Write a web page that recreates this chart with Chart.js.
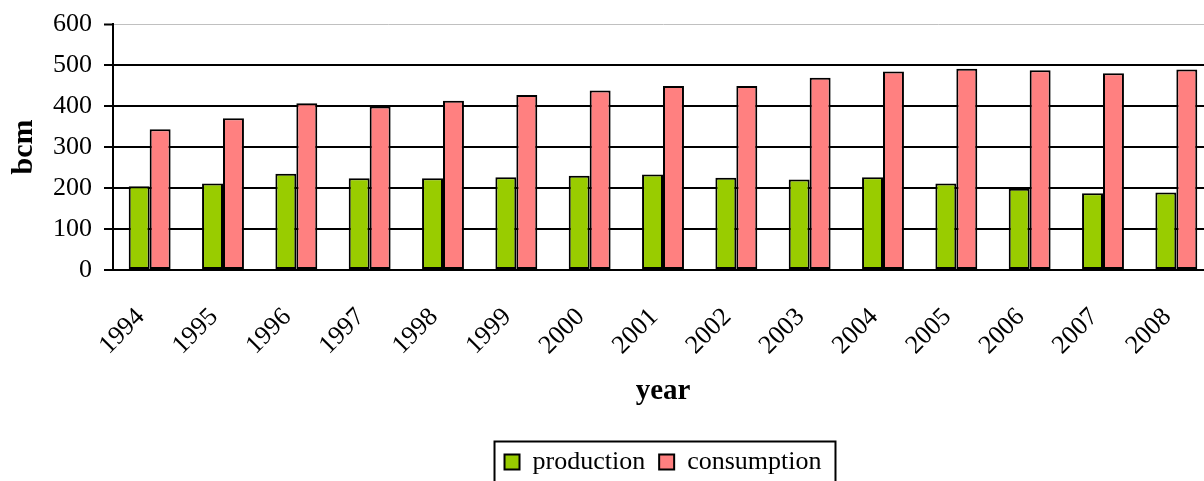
<!DOCTYPE html>
<html>
<head>
<meta charset="utf-8">
<script src="https://cdn.jsdelivr.net/npm/chart.js@4/dist/chart.umd.min.js"></script>
<style>
  html, body { margin: 0; padding: 0; background: #fff; overflow: hidden; width: 1204px; height: 481px; }
  #c { display: block; width: 1216px; height: 490px; }
</style>
</head>
<body>
<canvas id="c" width="1216" height="490"></canvas>
<script>
// Natural gas production and consumption, billion cubic metres per year
const years = ['1994','1995','1996','1997','1998','1999','2000','2001','2002','2003','2004','2005','2006','2007','2008'];
const production  = [204, 211, 235, 224, 224, 226, 230, 233, 225, 221, 226, 211, 198, 187, 189];
const consumption = [343, 370, 407, 399, 413, 427, 438, 449, 449, 469, 484, 491, 487, 480, 489];
const yTicks = [0, 100, 200, 300, 400, 500, 600];

const SERIF = '"Liberation Serif", "Times New Roman", serif';

// Frame drawn around the legend entries
const legendFrame = {
  id: 'legendFrame',
  afterDraw(chart) {
    const boxes = chart.legend && chart.legend.legendHitBoxes;
    if (!boxes || !boxes.length) return;
    const first = boxes[0], last = boxes[boxes.length - 1];
    const cy = first.top + first.height / 2;
    const left = first.left - 10;
    const right = last.left + last.width + 14;
    const top = cy - 20.5;
    const bottom = cy + 21.5;
    const ctx = chart.ctx;
    ctx.save();
    ctx.strokeStyle = '#000';
    ctx.lineWidth = 2;
    ctx.strokeRect(left, top, right - left, bottom - top);
    ctx.restore();
  }
};

new Chart(document.getElementById('c'), {
  type: 'bar',
  data: {
    labels: years,
    datasets: [
      { label: 'production', data: production, backgroundColor: '#99CC00', borderColor: '#000', borderWidth: 2, borderSkipped: false },
      { label: 'consumption', data: consumption, backgroundColor: '#FF8080', borderColor: '#000', borderWidth: 2, borderSkipped: false }
    ]
  },
  plugins: [legendFrame],
  options: {
    responsive: false,
    maintainAspectRatio: false,
    devicePixelRatio: 1,
    animation: false,
    layout: { padding: { top: 24, right: 3, bottom: 5, left: 0 } },
    datasets: { bar: { categoryPercentage: 0.5714, barPercentage: 1 } },
    plugins: {
      tooltip: { enabled: false },
      legend: {
        position: 'bottom',
        fullSize: false,
        labels: {
          color: '#000',
          font: { family: SERIF, size: 26 },
          boxWidth: 15,
          boxHeight: 15,
          padding: 14
        }
      }
    },
    scales: {
      x: {
        afterFit(scale) {
          scale.height = 165;
          scale.paddingLeft = 0;
          scale.paddingRight = 0;
        },
        grid: { display: false, drawTicks: false },
        border: { display: true, color: '#000', width: 2 },
        ticks: {
          color: '#000',
          font: { family: SERIF, size: 26 },
          minRotation: 45,
          maxRotation: 45,
          padding: 32,
          labelOffset: -9,
          autoSkip: false
        },
        title: {
          display: true,
          text: 'year',
          color: '#000',
          font: { family: SERIF, size: 29, weight: 'bold' },
          padding: { top: 0, bottom: 26 }
        }
      },
      y: {
        min: 0,
        max: 600,
        afterFit(scale) {
          scale.width = 113;
          scale.paddingTop = 0;
          scale.paddingBottom = 0;
        },
        afterBuildTicks(scale) { scale.ticks = yTicks.map(v => ({ value: v })); },
        grid: {
          color: ctx => (ctx.tick && ctx.tick.value === 600) ? '#c0c0c0' : '#000',
          lineWidth: ctx => (ctx.tick && ctx.tick.value === 600) ? 1 : 2,
          tickColor: '#000',
          tickWidth: 2,
          tickLength: 9
        },
        border: { display: true, color: '#000', width: 2 },
        ticks: {
          color: '#000',
          font: { family: SERIF, size: 26 },
          padding: 12
        },
        title: {
          display: true,
          text: 'bcm',
          color: '#000',
          font: { family: SERIF, size: 30, weight: 'bold' },
          padding: { top: 6, bottom: 0 }
        }
      }
    }
  }
});
</script>
</body>
</html>
